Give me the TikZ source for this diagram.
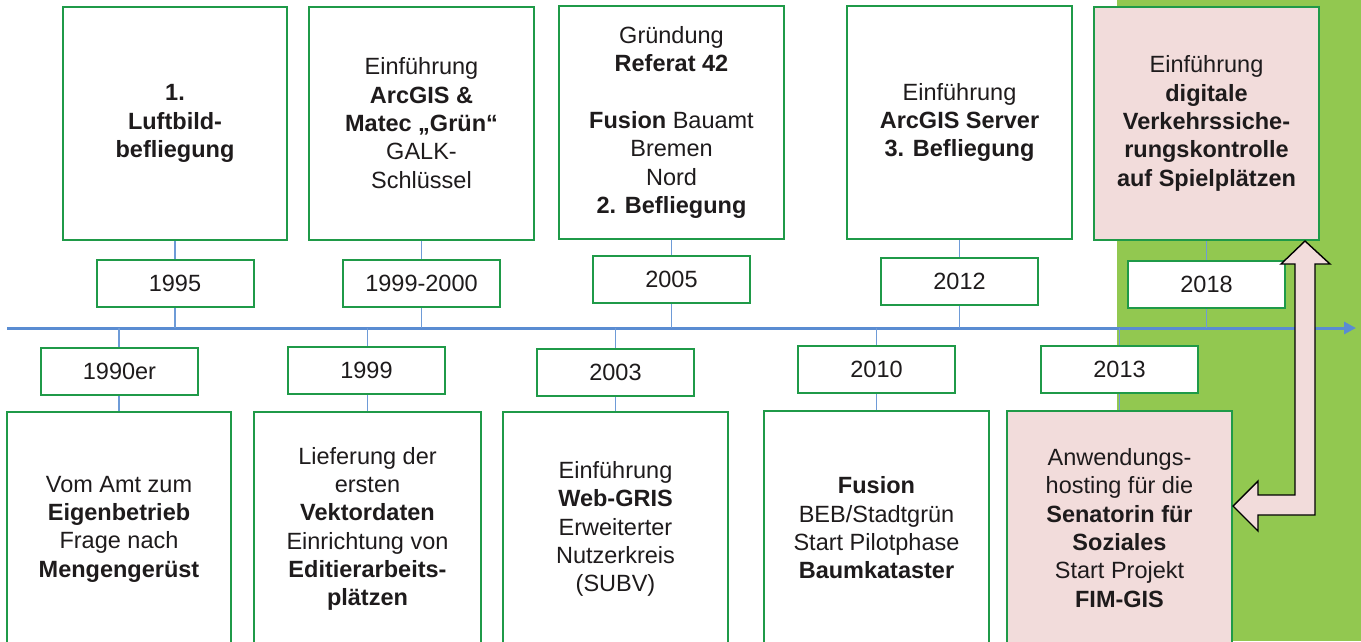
\documentclass[tikz,border=0pt]{standalone}
\usepackage{fontspec}
\setmainfont{Liberation Sans}
\usetikzlibrary{arrows.meta,calc}
\definecolor{boxgreen}{RGB}{31,154,72}
\definecolor{tlblue}{RGB}{90,140,210}
\definecolor{cnblue}{RGB}{110,155,215}
\definecolor{bggreen}{RGB}{146,200,80}
\definecolor{pinkfill}{RGB}{242,220,219}
\definecolor{txt}{RGB}{30,27,28}
\tikzset{
  every node/.style={text=txt, font=\fontsize{23.5}{28.3}\selectfont, align=center, inner sep=0pt},
  evbox/.style={draw=boxgreen, line width=2pt, fill=white, minimum width=224pt, minimum height=233pt},
  evpink/.style={evbox, fill=pinkfill},
  yearbox/.style={draw=boxgreen, line width=2pt, fill=white, minimum width=157pt, minimum height=47pt},
  timeline/.style={draw=tlblue, line width=3pt, -{Triangle[length=12pt,width=12pt]}},
  conn/.style={draw=cnblue, line width=1.2pt},
  blockarrow/.style={draw=black, fill=pinkfill, line width=1.4pt, line join=miter}
}
\begin{document}
\begin{tikzpicture}[x=1pt,y=-1pt]
\useasboundingbox (0,0) rectangle (1361,641);
\clip (0,0) rectangle (1361,641);
% green background
\fill[bggreen] (1117,0) rectangle (1361,641);
% timeline
\coordinate (tlA) at (7,328);
\coordinate (tlB) at (1356,328);
\draw[timeline] (tlA) -- (tlB);
% top event boxes
\node[evbox] (B1) at (175,123.5) {\textbf{1.}\\\textbf{Luftbild-}\\\textbf{befliegung}};
\node[evbox, minimum width=225pt] (B2) at (421.5,123) {Einführung\\\textbf{ArcGIS \&}\\\textbf{Matec „Grün“}\\GALK-\\Schlüssel};
\node[evbox, minimum width=225pt] (B3) at (671.5,122.5) {Gründung\\\textbf{Referat 42}\\\mbox{}\\\textbf{Fusion} Bauamt\\Bremen\\Nord\\\textbf{2. Befliegung}};
\node[evbox, minimum width=225pt] (B4) at (959.5,122.5) {Einführung\\\textbf{ArcGIS Server}\\\textbf{3. Befliegung}};
\node[evpink, minimum width=225pt] (B5) at (1206.5,123.5) {Einführung\\\textbf{digitale}\\\textbf{Verkehrssiche-}\\\textbf{rungskontrolle}\\\textbf{auf Spielplätzen}};
% bottom event boxes
\node[evbox, minimum height=234pt] (b1) at (119,529) {Vom Amt zum\\\textbf{Eigenbetrieb}\\Frage nach\\\textbf{Mengengerüst}};
\node[evbox, minimum width=227pt, minimum height=234pt] (b2) at (367.5,529) {Lieferung der\\ersten\\\textbf{Vektordaten}\\Einrichtung von\\\textbf{Editierarbeits-}\\\textbf{plätzen}};
\node[evbox, minimum width=225pt, minimum height=234pt] (b3) at (615.5,529) {Einführung\\\textbf{Web-GRIS}\\Erweiterter\\Nutzerkreis\\(SUBV)};
\node[evbox, minimum width=225pt, minimum height=234pt] (b4) at (876.5,528) {\textbf{Fusion}\\BEB/Stadtgrün\\Start Pilotphase\\\textbf{Baumkataster}};
\node[evpink, minimum width=225pt, minimum height=234pt] (b5) at (1119.5,528) {Anwendungs-\\hosting für die\\\textbf{Senatorin für}\\\textbf{Soziales}\\Start Projekt\\\textbf{FIM-GIS}};
% connectors
\foreach \n in {B1,B2,B3,B4,B5} {\draw[conn] (\n.south) -- (\n.south |- tlA);}
\foreach \n in {b1,b2,b3,b4,b5} {\draw[conn] (\n.north) -- (\n.north |- tlA);}
% year boxes
\node[yearbox] (y1995) at (175,283) {1995};
\node[yearbox] (y1999b) at (421.5,283) {1999-2000};
\node[yearbox] (y2005) at (671.5,279) {2005};
\node[yearbox] (y2012) at (959.5,281) {2012};
\node[yearbox] (y2018) at (1206.5,284.5) {2018};
\node[yearbox] (y1990) at (119.5,371) {1990er};
\node[yearbox] (y1999) at (366.5,370) {1999};
\node[yearbox] (y2003) at (615.5,372) {2003};
\node[yearbox] (y2010) at (876.5,369) {2010};
\node[yearbox] (y2013) at (1119.5,369) {2013};
% double block arrow between the two pink boxes
\coordinate (up) at ($(B5.south east)+(-15,0)$);
\coordinate (lt) at ($(b5.east)+(0,-22)$);
\draw[blockarrow] (up) -- ++(25,23) -- ++(-15,0) -- ($(lt)+(82,9)$) -- ++(-57,0) -- ++(0,16) -- (lt)
  -- ($(lt)+(25,-25)$) -- ++(0,14) -- ++(37,0) -- ($(up)+(-10,23)$) -- ++(-14,0) -- cycle;
\end{tikzpicture}
\end{document}
